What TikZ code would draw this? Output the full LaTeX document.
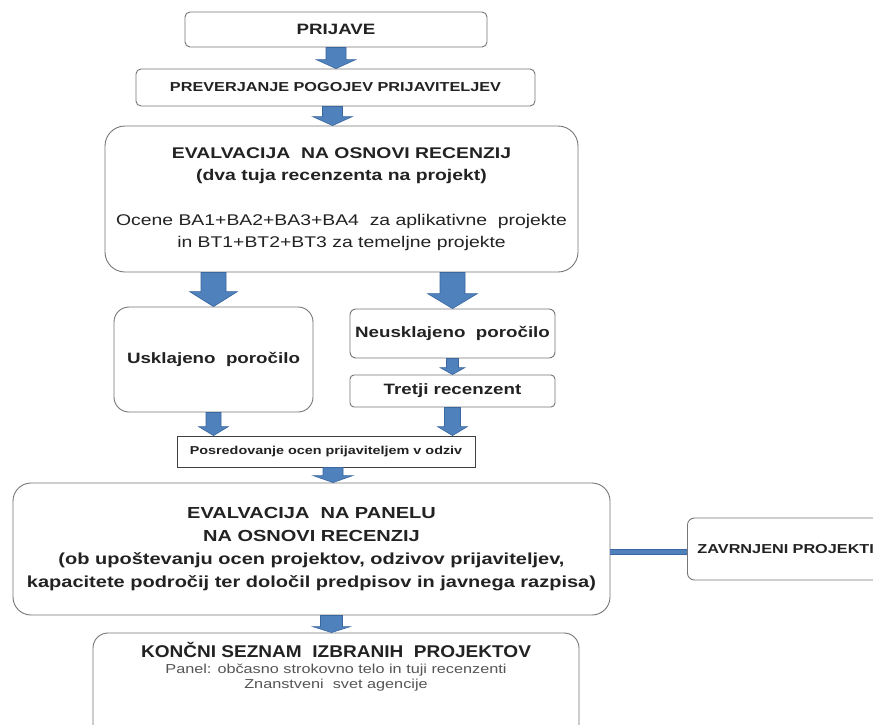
\documentclass[tikz,border=0pt]{standalone}
\usepackage{fontspec}
\setmainfont{Liberation Sans}
\newfontfamily\widesf[FakeStretch=1.25]{Liberation Sans}
\newfontfamily\tallsf[FakeStretch=1.12]{Liberation Sans}
\usetikzlibrary{calc}
\definecolor{arrowblue}{HTML}{4F81BD}
\definecolor{arrowrim}{HTML}{3A679E}
\definecolor{boxrim}{HTML}{767676}
\definecolor{inktext}{HTML}{222222}
\definecolor{softtext}{HTML}{555555}

\begin{document}
\begin{tikzpicture}[x=1pt,y=-1pt]
    \tikzstyle{box} = [draw=boxrim, line width=0.9pt, fill=white, align=center, inner sep=0pt, text=inktext];
    \tikzset{fat/.style n args={3}{fill=arrowblue, draw=arrowrim, line width=0.6pt,
        to path={let \p1=(\tikztostart), \p2=(\tikztotarget) in
            (\x1-#1,\y1) -- (\x1+#1,\y1) -- (\x1+#1,\y2+#3) -- (\x1+#2,\y2+#3)
            -- (\x1,\y2) -- (\x1-#2,\y2+#3) -- (\x1-#1,\y2+#3) -- cycle}}};
    \useasboundingbox (0,0) rectangle (873,724);
    \fill[white] (0,0) rectangle (873,724);
    \clip (0,0) rectangle (873,724);

    % upper chain
    \node[box, rounded corners=5pt, minimum width=302pt, minimum height=35pt,
          font=\widesf\bfseries\fontsize{15}{18}\selectfont] (prijave) at (336,29.5) {PRIJAVE};
    \node[box, rounded corners=5pt, minimum width=399pt, minimum height=37pt,
          font=\widesf\bfseries\fontsize{13}{16}\selectfont] (prever) at (335.5,87.5) {PREVERJANJE POGOJEV PRIJAVITELJEV};
    \node[box, rounded corners=20pt, minimum width=473pt, minimum height=146pt,
          font=\widesf\fontsize{15.5}{22.5}\selectfont] (eval1) at (341.5,199)
          {{\bfseries EVALVACIJA\ \ NA OSNOVI RECENZIJ}\\
           {\bfseries (dva tuja recenzenta na projekt)}\\[22pt]
           Ocene BA1+BA2+BA3+BA4\ \ za aplikativne\ \ projekte\\
           in BT1+BT2+BT3 za temeljne projekte};

    % two branches
    \node[box, rounded corners=15pt, minimum width=199pt, minimum height=105pt,
          font=\widesf\bfseries\fontsize{15}{18}\selectfont] (usk) at (213.5,359.5) {Usklajeno\ \ poročilo};
    \node[box, rounded corners=6pt, minimum width=205pt, minimum height=49pt,
          font=\widesf\bfseries\fontsize{15}{18}\selectfont] (neusk) at (452.5,333.5) {Neusklajeno\ \ poročilo};
    \node[box, rounded corners=4pt, minimum width=205pt, minimum height=32pt,
          font=\widesf\bfseries\fontsize{15}{18}\selectfont] (tretji) at (452.5,391) {Tretji recenzent};
    \node[box, draw=black!75, minimum width=298pt, minimum height=31pt,
          font=\widesf\bfseries\fontsize{11.5}{14}\selectfont] (posred) at (326,451.5) {Posredovanje ocen prijaviteljem v odziv};

    % panel and result
    \node[box, rounded corners=18pt, minimum width=597pt, minimum height=132pt,
          font=\widesf\bfseries\fontsize{16}{23}\selectfont] (panel) at (311.5,549)
          {EVALVACIJA\ \ NA PANELU\\
           NA OSNOVI RECENZIJ\\
           (ob upoštevanju ocen projektov, odzivov prijaviteljev,\\
           kapacitete področij ter določil predpisov in javnega razpisa)};
    \node[box, rounded corners=7pt, anchor=west, text width=200pt, inner xsep=10pt, align=left,
          minimum height=62pt, font=\widesf\bfseries\fontsize{13}{16}\selectfont] (zavr) at (687,549) {ZAVRNJENI PROJEKTI};
    \node[box, rounded corners=15pt, minimum width=486pt, minimum height=112pt] (konec) at (336,689) {};
    \node[anchor=north, align=center, inner sep=0pt, text=softtext,
          font=\widesf\fontsize{13}{15}\selectfont] (konectxt) at ([yshift=-10pt]konec.north)
          {{\tallsf\bfseries\fontsize{17}{20}\selectfont\color{inktext}KONČNI SEZNAM\ \ IZBRANIH\ \ PROJEKTOV}\\[1pt]
           Panel: občasno strokovno telo in tuji recenzenti\\
           Znanstveni\ \ svet agencije};

    % block arrows
    \draw[fat={10pt}{20pt}{9pt}] (prijave.south) to (prever.north);
    \draw[fat={10pt}{20pt}{9pt}] ([xshift=-3pt]prever.south) to (eval1.north);
    \draw[fat={12.5pt}{24pt}{15pt}] (eval1.south -| usk) to (usk.north);
    \draw[fat={12.5pt}{25pt}{15pt}] (eval1.south -| neusk) to (neusk.north);
    \draw[fat={6pt}{12.5pt}{7pt}] (neusk.south) to (tretji.north);
    \draw[fat={7.5pt}{15pt}{9pt}] (usk.south) to (posred.north);
    \draw[fat={8pt}{15pt}{9pt}] (tretji.south) to (posred.north);
    \draw[fat={10pt}{20pt}{7pt}] ([xshift=7pt]posred.south) to (panel.north);
    \draw[fat={11pt}{19pt}{6pt}] ([xshift=20pt]panel.south) to (konec.north);
    \draw[draw=arrowrim, double=arrowblue, double distance=4.5pt, line width=0.7pt]
        ([yshift=-3pt]panel.east) -- ([yshift=-3pt]zavr.west);
\end{tikzpicture}
\end{document}
